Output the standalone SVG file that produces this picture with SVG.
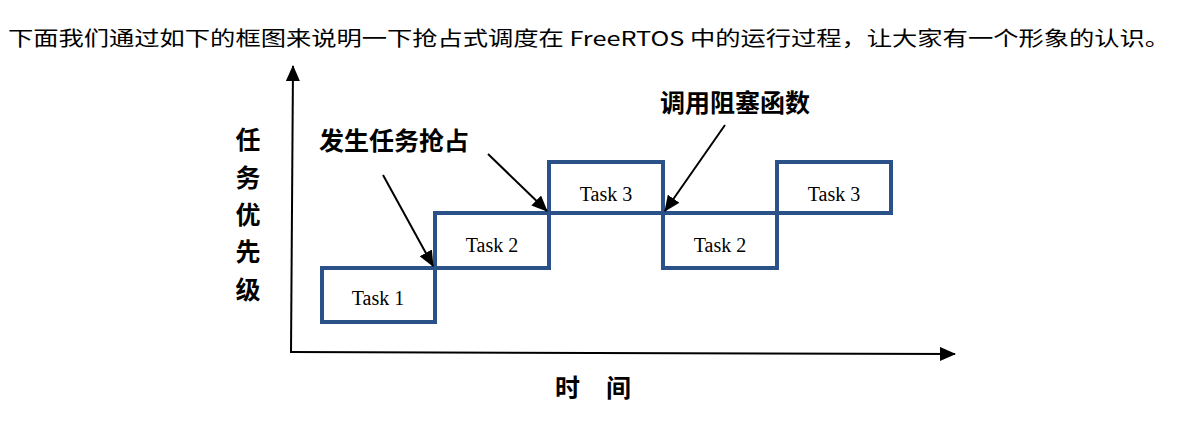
<svg xmlns="http://www.w3.org/2000/svg" width="1189" height="422" viewBox="0 0 1189 422">
<style>
.hdr{font-family:"Noto Sans CJK SC","Noto Sans",sans-serif;font-size:20px;fill:#000}
.lbl{font-family:"Noto Sans CJK SC",sans-serif;font-size:25px;font-weight:bold;fill:#000}
.task{fill:#fff;stroke:#2a5188;stroke-width:4}
.tt{font-family:"Liberation Serif","Times New Roman",serif;font-size:20px;fill:#000;text-anchor:middle}
.ln{stroke:#000;stroke-width:2;fill:none}
</style>
<defs>
<marker id="ab" markerWidth="16" markerHeight="14" refX="15" refY="7" orient="auto" markerUnits="userSpaceOnUse" viewBox="0 0 16 14"><path d="M0,0 L16,7 L0,14 z" fill="#000"/></marker>
</defs>
<rect width="1189" height="422" fill="#fff"/>
<text class="hdr" x="8" y="46" textLength="1162" lengthAdjust="spacingAndGlyphs">下面我们通过如下的框图来说明一下抢占式调度在 FreeRTOS 中的运行过程，让大家有一个形象的认识。</text>
<g id="axes">
<line class="ln" x1="291" y1="352" x2="293" y2="66" marker-end="url(#ab)"/>
<line class="ln" x1="290" y1="352" x2="955" y2="354" marker-end="url(#ab)"/>
</g>
<g id="ylabel"><text class="lbl" x="248" y="149" text-anchor="middle">任</text><text class="lbl" x="248" y="187" text-anchor="middle">务</text><text class="lbl" x="248" y="224" text-anchor="middle">优</text><text class="lbl" x="248" y="261" text-anchor="middle">先</text><text class="lbl" x="248" y="299" text-anchor="middle">级</text></g>
<g id="xlabel"><text class="lbl" x="555" y="397">时</text><text class="lbl" x="606" y="397">间</text></g>
<g id="task1"><rect class="task" x="322" y="268" width="113" height="54"/><text class="tt" x="378" y="305">Task 1</text></g>
<g id="task2"><rect class="task" x="435" y="213" width="114" height="55"/><text class="tt" x="492" y="252">Task 2</text></g>
<g id="task3"><rect class="task" x="549" y="162" width="114" height="51"/><text class="tt" x="606" y="201">Task 3</text></g>
<g id="task2b"><rect class="task" x="663" y="213" width="114" height="55"/><text class="tt" x="720" y="252">Task 2</text></g>
<g id="task3b"><rect class="task" x="777" y="162" width="114" height="51"/><text class="tt" x="834" y="201">Task 3</text></g>
<g id="preempt"><text class="lbl" x="319" y="150">发生任务抢占</text></g>
<g id="block"><text class="lbl" x="660" y="112">调用阻塞函数</text></g>
<g id="connectors">
<line class="ln" x1="383" y1="175" x2="433" y2="266" marker-end="url(#ab)"/>
<line class="ln" x1="488" y1="154" x2="547" y2="211" marker-end="url(#ab)"/>
<line class="ln" x1="725" y1="125" x2="665" y2="211" marker-end="url(#ab)"/>
</g>
</svg>
